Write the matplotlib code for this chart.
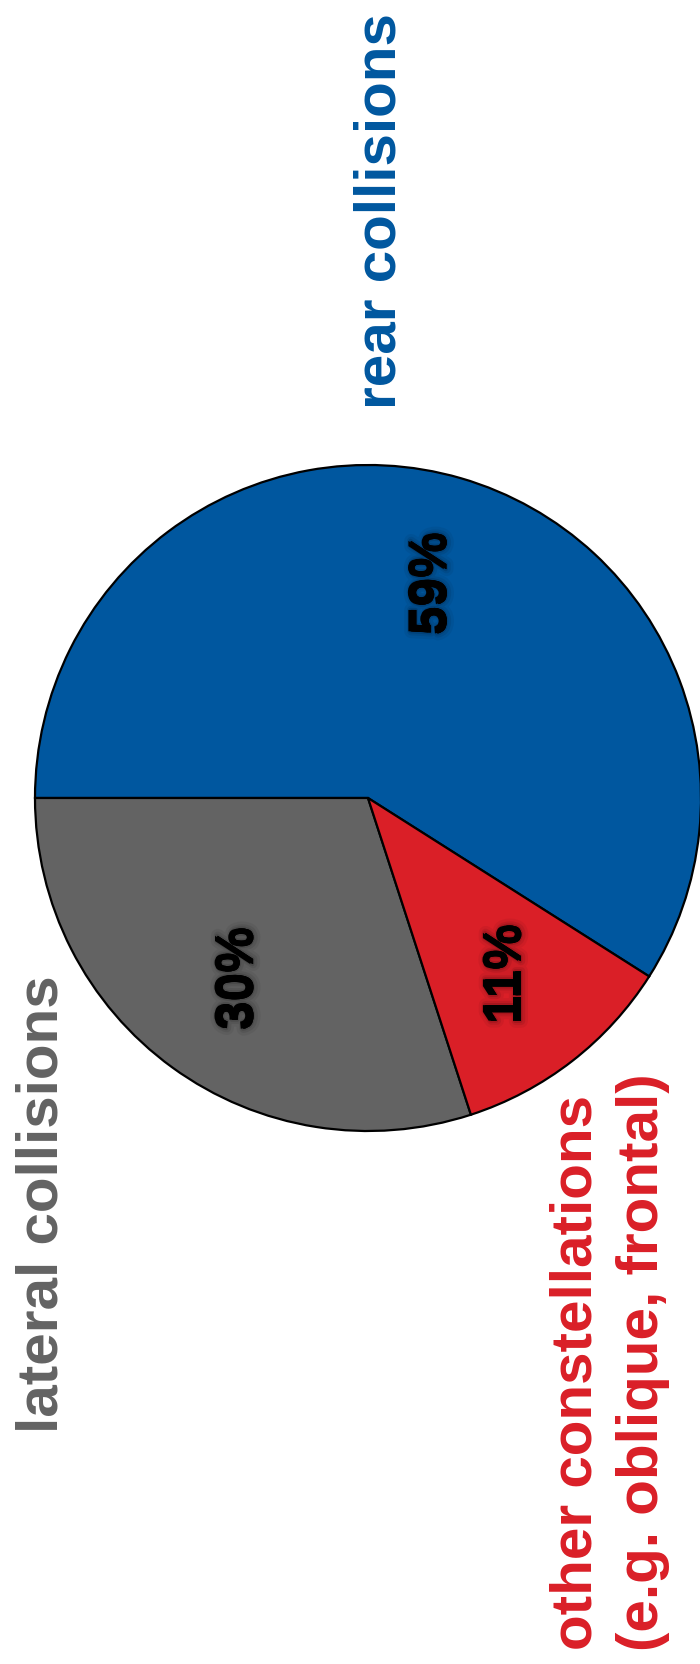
import matplotlib
matplotlib.use("Agg")
import matplotlib.pyplot as plt
import matplotlib.patheffects as pe

# collision types and their shares (percent)
categories = ["rear collisions", "lateral collisions", "other constellations"]
subtitle = "(e.g. oblique, frontal)"
shares = [59, 30, 11]
colors = ["#00579F", "#636363", "#DA1F27"]

W, H = 700, 1665
fig = plt.figure(figsize=(W / 100, H / 100), dpi=100)
ax = fig.add_axes([0, 0, 1, 1])

cx, cy, r = 368, H - 799, 333

wedges, texts, autotexts = ax.pie(
    shares, colors=colors, startangle=-32.4, counterclock=True,
    center=(cx, cy), radius=r, frame=True,
    autopct=lambda p: f"{round(p)}%", pctdistance=0.67,
    wedgeprops=dict(edgecolor="black", linewidth=1.6),
)

# soft dark halo behind the percentages
glow = [
    pe.Stroke(linewidth=10, foreground=(0, 0, 0, 0.05), offset=(2, 0)),
    pe.Stroke(linewidth=6, foreground=(0, 0, 0, 0.08), offset=(2, 0)),
    pe.Stroke(linewidth=3, foreground=(0, 0, 0, 0.12), offset=(1.5, 0)),
    pe.Normal(),
]
for t in autotexts:
    t.set_rotation(90)
    t.set_fontfamily("Liberation Sans")
    t.set_fontweight("bold")
    t.set_fontsize(37)
    t.set_color("black")
    t.set_ha("center")
    t.set_va("center")
    t.set_path_effects(glow)

lab = dict(rotation=90, rotation_mode="anchor", ha="left", va="baseline",
           fontfamily="Liberation Sans", fontweight="bold", fontsize=42)

ax.text(395, H - 409, categories[0], color=colors[0], **lab)
ax.text(57, H - 1433, categories[1], color=colors[1], **lab)
ax.text(591, H - 1650, categories[2], color=colors[2], **lab)
ax.text(658, H - 1651, subtitle, color=colors[2], **lab)

ax.set_xlim(0, W)
ax.set_ylim(0, H)
ax.set_aspect("auto")
ax.axis("off")

fig.savefig("out.png", dpi=100, facecolor="white")
